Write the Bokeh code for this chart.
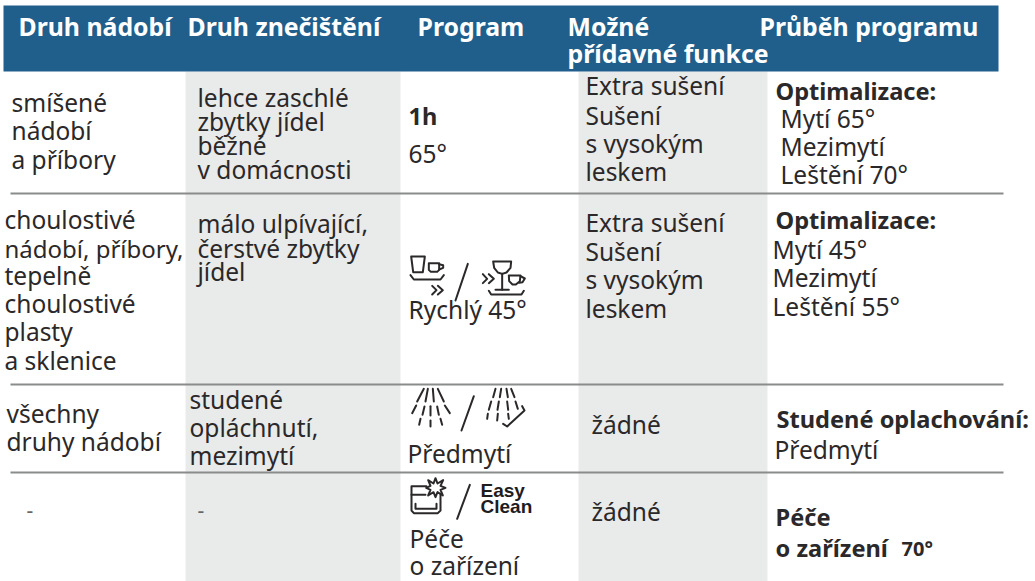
from bokeh.plotting import figure
from bokeh.models import Range1d
from bokeh.core.properties import value
from bokeh.embed import file_html
from bokeh.resources import INLINE

# ---- content
col_headers = ["Druh nádobí", "Druh znečištění", "Program", "Možné", "přídavné funkce", "Průběh programu"]
r1_type = ["smíšené", "nádobí", "a příbory"]
r1_soil = ["lehce zaschlé", "zbytky jídel", "běžné", "v domácnosti"]
r1_prog = ["65°"]
r1_prog_bold = ["1h"]
extras = ["Extra sušení", "Sušení", "s vysokým", "leskem"]
opt = ["Optimalizace:"]
r1_flow = ["Mytí 65°", "Mezimytí", "Leštění 70°"]
r2_type = ["choulostivé", "tepelně", "choulostivé", "plasty", "a sklenice"]
r2_type_tight = ["nádobí, příbory,"]
r2_soil = ["málo ulpívající,", "čerstvé zbytky", "jídel"]
r2_prog = ["Rychlý 45°"]
r2_flow = ["Mytí 45°", "Mezimytí", "Leštění 55°"]
r3_type = ["všechny", "druhy nádobí"]
r3_soil = ["studené", "opláchnutí,", "mezimytí"]
r3_prog = ["Předmytí"]
none_txt = ["žádné"]
r3_flow_bold = ["Studené oplachování:"]
r3_flow = ["Předmytí"]
dash = ["-"]
r4_prog = ["Péče", "o zařízení"]
r4_flow_bold = ["Péče", "o zařízení"]
r4_flow_temp = ["70°"]
easy = ["Easy", "Clean"]

# ---- layout & style
W, H = 1035, 581
BLUE, GREY, RULE, INK = "#205f8c", "#e9ebea", "#8a8b8c", "#2b2829"
FONT = "Noto Sans"
HEAD, BODY, BOLD = 24.8, 24.5, 23.6
DY = 0.36  # renderer's baseline offset, as a share of the font size

p = figure(width=W, height=H, x_range=Range1d(0, W), y_range=Range1d(H, 0),
           output_backend="svg", toolbar_location=None, min_border=0,
           x_axis_type=None, y_axis_type=None, outline_line_color=None,
           background_fill_color="white",
           styles={"position": "absolute", "left": "0px", "top": "0px"})
p.grid.visible = False

p.quad(left=[185, 578], right=[400, 767], top=[71, 71], bottom=[H, H], fill_color=GREY, line_color=None)
p.quad(left=[3], right=[998], top=[5], bottom=[71], fill_color=BLUE, line_color=None)
p.multi_line(xs=[[10, 1003]] * 3, ys=[[193, 193], [384, 384], [472, 472]], line_color=RULE, line_width=2)


def put(lines, xs, ys, size=BODY, bold=False, color=INK, font=FONT):
    xs = xs if isinstance(xs, list) else [xs] * len(lines)
    p.text(x=[x - 1 for x in xs], y=[y - DY * size for y in ys], text=lines, text_font=value(font),
           text_font_size=value(f"{size}px"),
           text_font_style="bold" if bold else "normal", text_color=color,
           text_baseline="alphabetic", text_align="left")


put(col_headers, [19, 188, 418, 568, 568, 760], [34, 34, 34, 34, 61, 34], HEAD, True, "white")

put(r1_type, 12, [111, 139, 168])
put(r1_soil, 198, [106, 130, 154, 178])
put(r1_prog_bold, 409, [124], BOLD, True)
put(r1_prog, 409, [162])
put(extras, 586, [94, 124, 152, 180])
put(opt, 776, [99], BOLD, True)
put(r1_flow, 781, [127, 155, 183])

put(r2_type, 5, [228, 284, 312, 340, 369])
put(r2_type_tight, 5, [257], 24)
put(r2_soil, 198, [232, 257, 280])
put(r2_prog, 409, [318])
put(extras, 586, [231, 260, 288, 317])
put(opt, 776, [228], BOLD, True)
put(r2_flow, 773, [258, 286, 315])

put(r3_type, 7, [422, 450])
put(r3_soil, 190, [408, 436, 464])
put(r3_prog, 408, [462])
put(none_txt, 592, [433])
put(r3_flow_bold, 777, [427], BOLD, True)
put(r3_flow, 775, [458])

put(dash, 27, [517], 21, color="#666666")
put(dash, 198, [517], 21, color="#666666")
put(r4_prog, 410, [547, 574])
put(none_txt, 592, [520])
put(r4_flow_bold, 776, [525, 556], BOLD, True)
put(r4_flow_temp, 902, [555], 20, True)
put(easy, 481, [497, 513], 19, True, "#1e1c1d", "Liberation Sans")


# ---- pictograms, traced in zoom-crop units (1/3 px) relative to a crop origin
def strokes(paths, ox, oy, w=2.0):
    p.multi_line(xs=[[ox + a / 3 for a, _ in s] for s in paths],
                 ys=[[oy + b / 3 for _, b in s] for s in paths],
                 line_color=INK, line_width=w, line_cap="round", line_join="round")


rapid = [
    [(92, 78), (133, 78), (127, 125), (98, 125), (92, 78)],
    [(145, 98), (176, 98), (176, 118), (170, 124), (151, 124), (145, 118), (145, 98)],
    [(176, 101), (188, 104), (188, 112), (176, 117)],
    [(90, 134), (100, 147), (180, 147), (190, 134)],
    [(155, 166), (168, 179), (155, 192)], [(172, 166), (187, 179), (172, 192)],
    [(262, 100), (225, 210)],
    [(307, 131), (320, 145), (307, 158)], [(325, 131), (340, 145), (325, 158)],
    [(338, 93), (392, 93), (390, 112), (378, 126), (365, 130), (352, 126), (341, 112), (338, 93)],
    [(365, 130), (365, 178)], [(345, 178), (385, 178)],
    [(385, 135), (420, 135), (418, 152), (406, 162), (396, 162), (386, 152), (385, 135)],
    [(420, 137), (433, 144), (426, 155), (416, 157)],
    [(325, 181), (332, 192), (423, 192), (430, 181)],
]
strokes(rapid, 380, 230)

spray = [
    [(130, 40), (110, 78)], [(142, 40), (135, 78)], [(157, 40), (160, 78)], [(172, 40), (190, 78)],
    [(107, 90), (95, 113)], [(132, 93), (126, 118)], [(150, 92), (150, 120)], [(170, 93), (175, 118)], [(193, 90), (208, 113)],
    [(120, 130), (116, 148)], [(150, 135), (150, 153)], [(180, 130), (185, 148)],
    [(280, 62), (243, 165)],
    [(345, 40), (338, 65)], [(362, 40), (358, 65)], [(378, 40), (382, 65)], [(392, 40), (402, 65)],
    [(332, 78), (325, 103)], [(355, 78), (351, 103)], [(380, 78), (383, 103)], [(405, 78), (412, 100)],
    [(322, 115), (320, 130)], [(352, 115), (350, 135)], [(383, 115), (385, 130)],
    [(368, 145), (380, 153), (432, 105), (425, 92)],
]
strokes(spray, 380, 375)

care = [
    [(138, 332), (93, 332), (93, 405), (100, 413), (172, 413), (180, 405), (180, 358)],
    [(93, 358), (135, 358)], [(105, 385), (105, 400), (168, 400), (168, 385)],
    [(165, 308), (171, 324), (188, 314), (180, 331), (195, 337), (180, 343), (187, 360),
     (171, 350), (165, 365), (159, 350), (143, 360), (150, 343), (137, 337), (150, 331),
     (143, 314), (159, 324), (165, 308)],
    [(268, 328), (230, 430)],
]
strokes(care, 380, 375)

open("out.html", "w").write(file_html(p, INLINE))
